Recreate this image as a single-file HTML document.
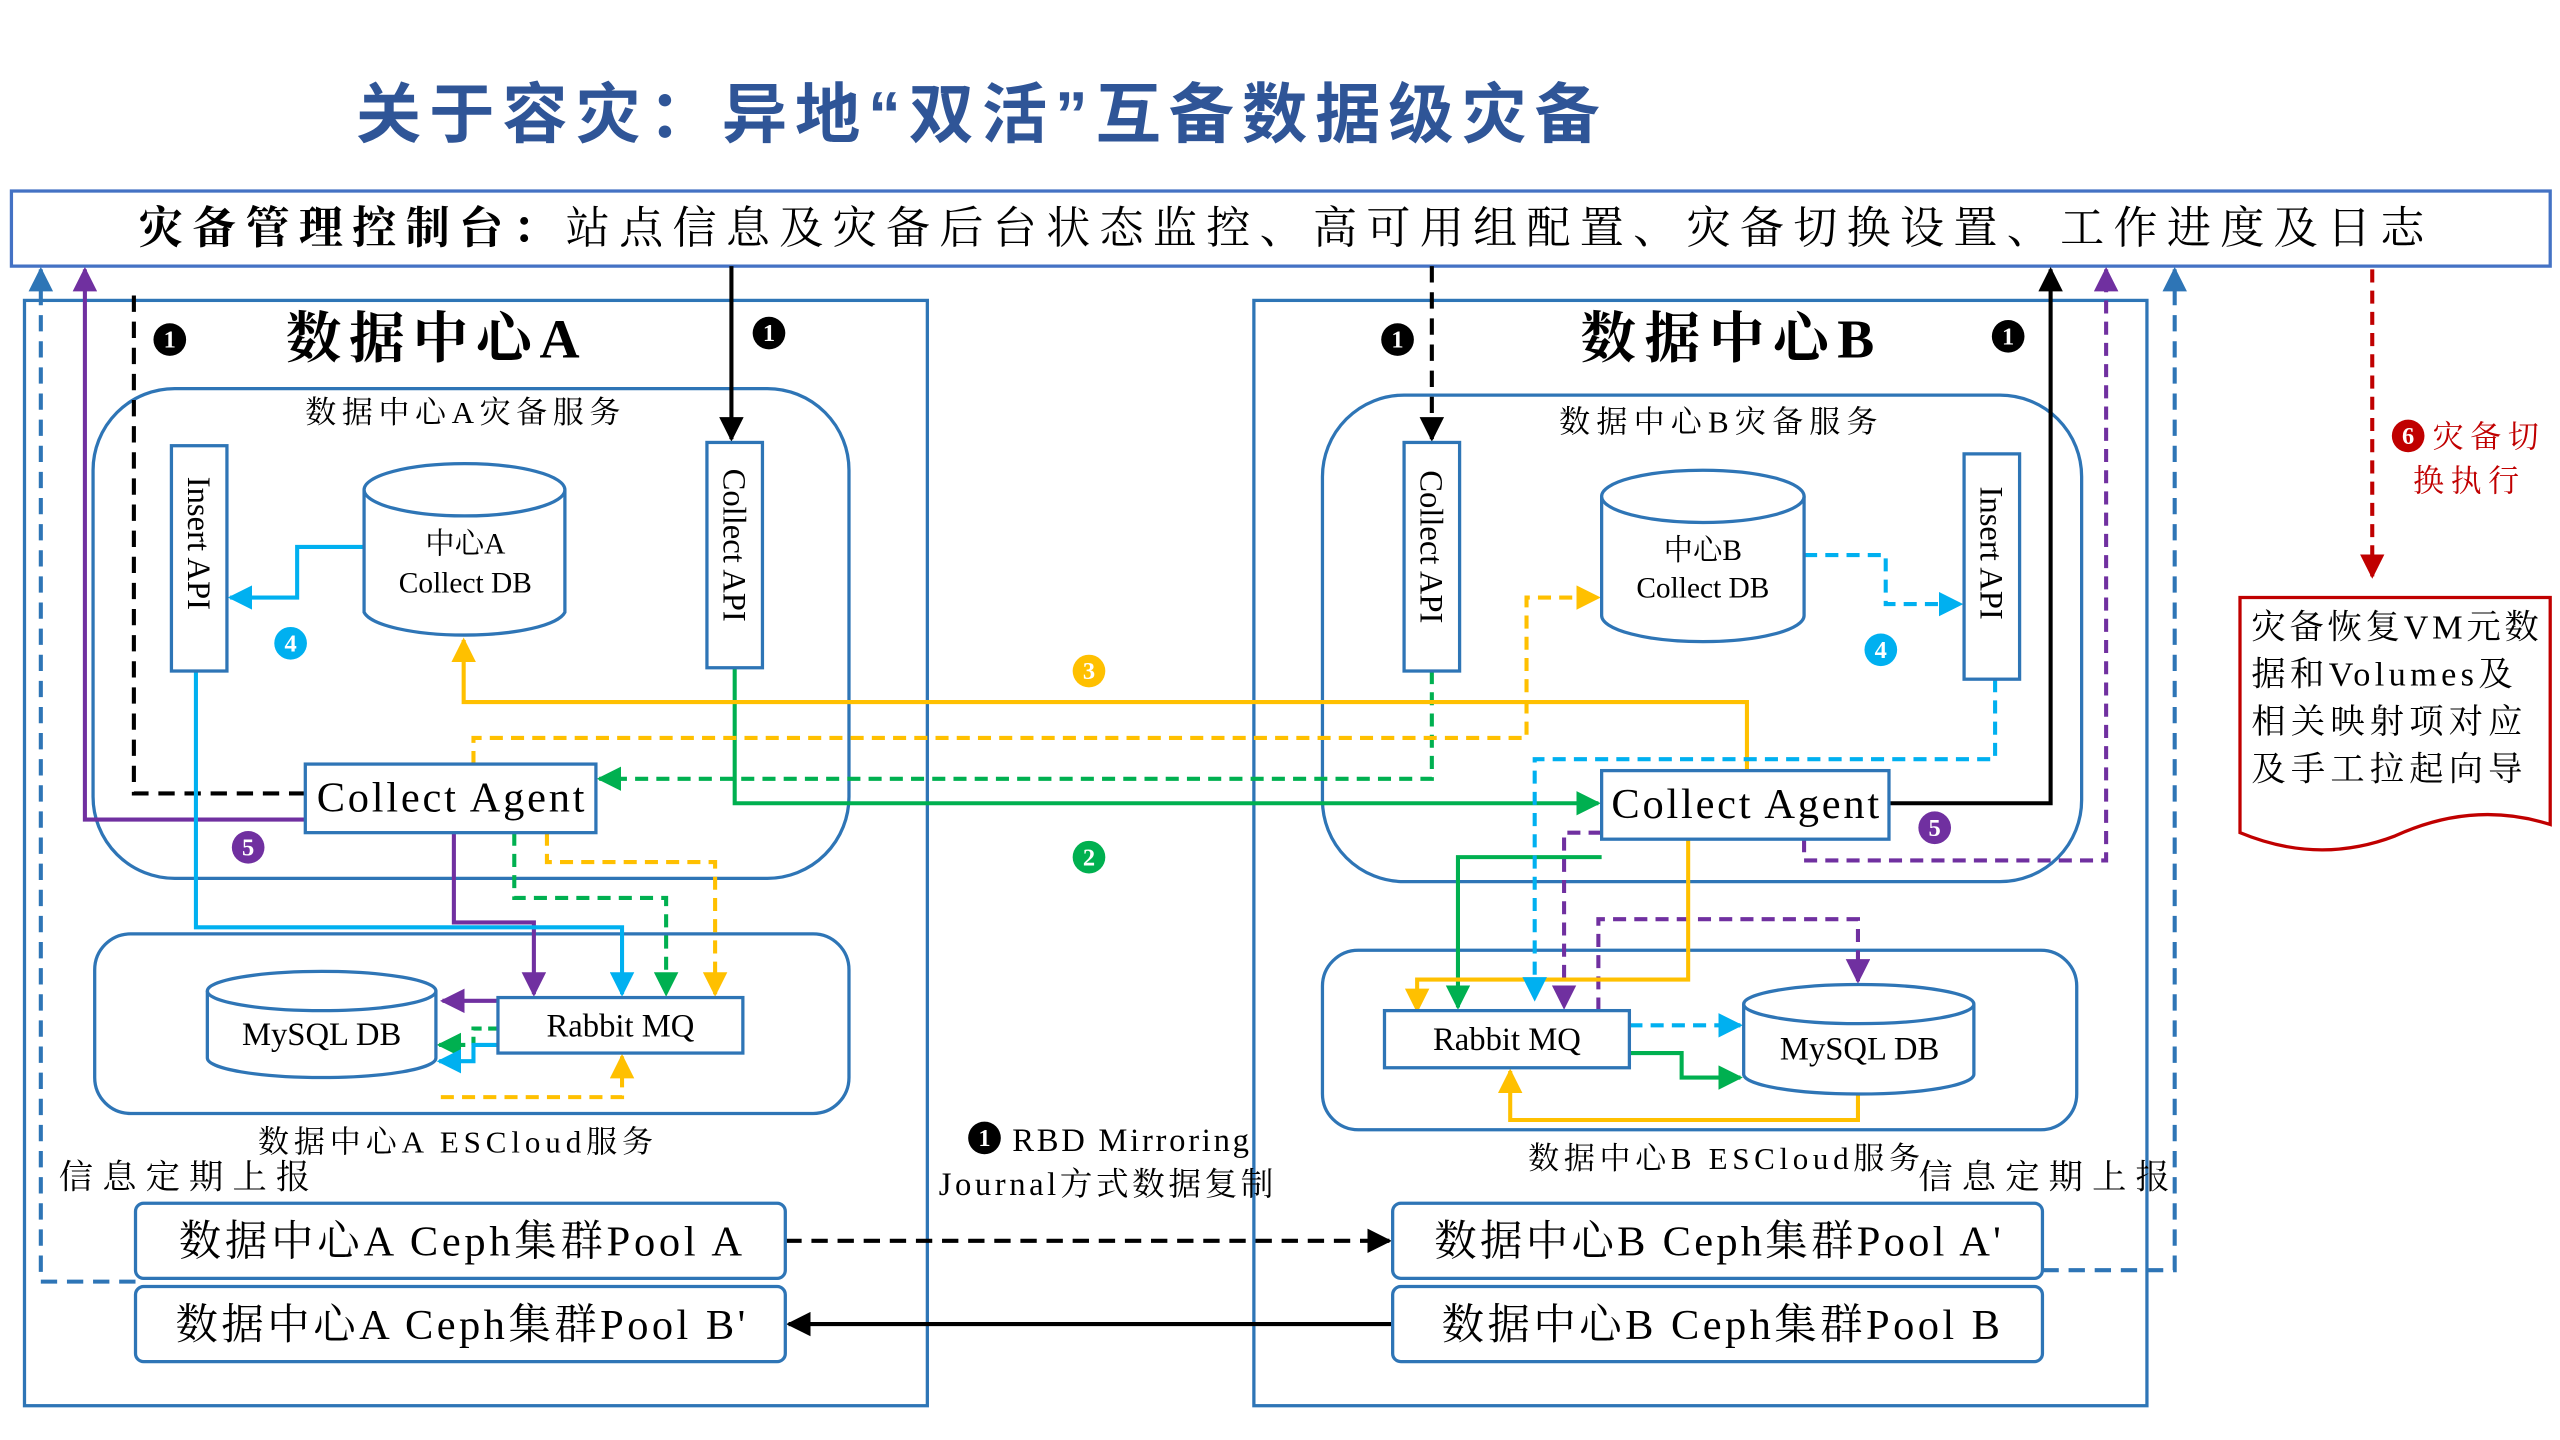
<!DOCTYPE html>
<html><head><meta charset="utf-8"><style>
html,body{margin:0;padding:0;background:#fff;width:2560px;height:1440px;overflow:hidden}
svg{display:block}
text{font-family:"Liberation Serif","Noto Serif CJK SC",serif}
.s{font-family:"Liberation Sans","Noto Sans CJK SC",sans-serif}
</style></head><body>
<svg width="2560" height="1440" viewBox="0 0 1568 882" xmlns="http://www.w3.org/2000/svg">
<defs>
<marker id="ab" viewBox="0 0 10 10" refX="9" refY="5" markerWidth="6" markerHeight="6" orient="auto"><path d="M0,0L10,5L0,10z" fill="#000"/></marker>
<marker id="abl" viewBox="0 0 10 10" refX="9" refY="5" markerWidth="6" markerHeight="6" orient="auto"><path d="M0,0L10,5L0,10z" fill="#2e75b6"/></marker>
<marker id="ap" viewBox="0 0 10 10" refX="9" refY="5" markerWidth="6" markerHeight="6" orient="auto"><path d="M0,0L10,5L0,10z" fill="#7030a0"/></marker>
<marker id="ag" viewBox="0 0 10 10" refX="9" refY="5" markerWidth="6" markerHeight="6" orient="auto"><path d="M0,0L10,5L0,10z" fill="#00b050"/></marker>
<marker id="ay" viewBox="0 0 10 10" refX="9" refY="5" markerWidth="6" markerHeight="6" orient="auto"><path d="M0,0L10,5L0,10z" fill="#ffc000"/></marker>
<marker id="ac" viewBox="0 0 10 10" refX="9" refY="5" markerWidth="6" markerHeight="6" orient="auto"><path d="M0,0L10,5L0,10z" fill="#00b0f0"/></marker>
<marker id="ar" viewBox="0 0 10 10" refX="9" refY="5" markerWidth="6" markerHeight="6" orient="auto"><path d="M0,0L10,5L0,10z" fill="#c00000"/></marker>
</defs>
<text x="218" y="84" class="s" font-size="40" font-weight="bold" fill="#2f5597" textLength="762" lengthAdjust="spacing">关于容灾：异地“双活”互备数据级灾备</text>
<rect x="7" y="117" width="1555" height="46" fill="#fff" stroke="#4472c4" stroke-width="2"/>
<text x="85" y="149" font-size="27" textLength="1400" lengthAdjust="spacing"><tspan font-weight="bold">灾备管理控制台：</tspan>站点信息及灾备后台状态监控、高可用组配置、灾备切换设置、工作进度及日志</text>
<g fill="none" stroke="#2e75b6" stroke-width="2">
<rect x="15" y="184" width="553" height="677"/>
<rect x="768" y="184" width="547" height="677"/>
<rect x="57" y="238" width="463" height="300" rx="50"/>
<rect x="810" y="242" width="465" height="298" rx="50"/>
<rect x="58" y="572" width="462" height="110" rx="22"/>
<rect x="810" y="582" width="462" height="110" rx="22"/>
</g>
<text x="175" y="219" font-size="34" font-weight="bold" textLength="180" lengthAdjust="spacing">数据中心A</text>
<text x="968" y="219" font-size="34" font-weight="bold" textLength="180" lengthAdjust="spacing">数据中心B</text>
<text x="187" y="259" font-size="19" textLength="193" lengthAdjust="spacing">数据中心A灾备服务</text>
<text x="955" y="265" font-size="19" textLength="195" lengthAdjust="spacing">数据中心B灾备服务</text>
<text x="158" y="706" font-size="19" textLength="242" lengthAdjust="spacing">数据中心A  ESCloud服务</text>
<text x="936" y="716" font-size="19" textLength="240" lengthAdjust="spacing">数据中心B  ESCloud服务</text>
<text x="36" y="728" font-size="21" textLength="154" lengthAdjust="spacing">信息定期上报</text>
<text x="1175" y="728" font-size="21" textLength="154" lengthAdjust="spacing">信息定期上报</text>
<text x="620" y="705" font-size="20" textLength="145" lengthAdjust="spacing">RBD Mirroring</text>
<text x="575" y="732" font-size="20" textLength="205" lengthAdjust="spacing">Journal方式数据复制</text>

<g fill="none" stroke-width="2.5">
<path d="M83,785H25V165" stroke="#2e75b6" stroke-dasharray="10,6" marker-end="url(#abl)"/>
<path d="M1251,778H1332V165" stroke="#2e75b6" stroke-dasharray="10,6" marker-end="url(#abl)"/>
<path d="M187,486H82V180" stroke="#000" stroke-dasharray="10,6"/>
<path d="M448,163V269" stroke="#000" marker-end="url(#ab)"/>
<path d="M877,163V269" stroke="#000" stroke-dasharray="10,6" marker-end="url(#ab)"/>
<path d="M1157,492H1256V165" stroke="#000" marker-end="url(#ab)"/>
<path d="M187,502H52V165" stroke="#7030a0" marker-end="url(#ap)"/>
<path d="M278,510V565H327V609" stroke="#7030a0" marker-end="url(#ap)"/>
<path d="M305,613H271" stroke="#7030a0" marker-end="url(#ap)"/>
<path d="M1105,514V527H1290V165" stroke="#7030a0" stroke-dasharray="8,5" marker-end="url(#ap)"/>
<path d="M981,510H958V617" stroke="#7030a0" stroke-dasharray="8,5" marker-end="url(#ap)"/>
<path d="M979,619V563H1138V601" stroke="#7030a0" stroke-dasharray="8,5" marker-end="url(#ap)"/>
<path d="M450,409V492H979" stroke="#00b050" marker-end="url(#ag)"/>
<path d="M877,411V477H367" stroke="#00b050" stroke-dasharray="8,5" marker-end="url(#ag)"/>
<path d="M315,510V550H408V609" stroke="#00b050" stroke-dasharray="8,5" marker-end="url(#ag)"/>
<path d="M305,630H290V640H269" stroke="#00b050" stroke-dasharray="6,4" marker-end="url(#ag)"/>
<path d="M981,525H893V617" stroke="#00b050" marker-end="url(#ag)"/>
<path d="M998,645H1030V660H1066" stroke="#00b050" marker-end="url(#ag)"/>
<path d="M1070,472V430H284V392" stroke="#ffc000" marker-end="url(#ay)"/>
<path d="M290,468V452H935V366H979" stroke="#ffc000" stroke-dasharray="8,5" marker-end="url(#ay)"/>
<path d="M335,510V528H438V609" stroke="#ffc000" stroke-dasharray="8,5" marker-end="url(#ay)"/>
<path d="M270,672H381V647" stroke="#ffc000" stroke-dasharray="8,5" marker-end="url(#ay)"/>
<path d="M1034,514V600H868V619" stroke="#ffc000" marker-end="url(#ay)"/>
<path d="M1138,670V686H925V656" stroke="#ffc000" marker-end="url(#ay)"/>
<path d="M223,335H182V366H141" stroke="#00b0f0" marker-end="url(#ac)"/>
<path d="M120,411V568H381V609" stroke="#00b0f0" marker-end="url(#ac)"/>
<path d="M1105,340H1155V370H1201" stroke="#00b0f0" stroke-dasharray="8,5" marker-end="url(#ac)"/>
<path d="M1222,416V465H940V612" stroke="#00b0f0" stroke-dasharray="8,5" marker-end="url(#ac)"/>
<path d="M998,628H1066" stroke="#00b0f0" stroke-dasharray="8,5" marker-end="url(#ac)"/>
<path d="M305,640H290V650H269" stroke="#00b0f0" marker-end="url(#ac)"/>
<path d="M481,760H851" stroke="#000" stroke-dasharray="10,6" marker-end="url(#ab)"/>
<path d="M853,811H483" stroke="#000" marker-end="url(#ab)"/>
<path d="M1453,165V353" stroke="#c00000" stroke-dasharray="8,5" marker-end="url(#ar)"/>
</g>

<g fill="#fff" stroke="#2e75b6" stroke-width="2">
<rect x="105" y="273" width="34" height="138"/>
<rect x="433" y="271" width="34" height="138"/>
<rect x="860" y="271" width="34" height="140"/>
<rect x="1203" y="278" width="34" height="138"/>
</g>
<g font-size="20">
<text transform="translate(115,292) rotate(90)">Insert API</text>
<text transform="translate(443,287) rotate(90)">Collect API</text>
<text transform="translate(870,288) rotate(90)">Collect API</text>
<text transform="translate(1213,298) rotate(90)">Insert API</text>
</g>
<g fill="#fff" stroke="#2e75b6" stroke-width="2">
<path d="M223,300V375A62,16 0 0 0 346,375V300"/><ellipse cx="284.5" cy="300" rx="61.5" ry="16"/>
<path d="M981,304V377A62,16 0 0 0 1105,377V304"/><ellipse cx="1043" cy="304" rx="62" ry="16"/>
<path d="M127,607V648A70,12 0 0 0 267,648V607"/><ellipse cx="197" cy="607" rx="70" ry="12"/>
<path d="M1068,615V658A70,12 0 0 0 1209,658V615"/><ellipse cx="1138.5" cy="615" rx="70.5" ry="12"/>
<rect x="187" y="468" width="178" height="42"/>
<rect x="981" y="472" width="176" height="42"/>
<rect x="305" y="611" width="150" height="34"/>
<rect x="848" y="619" width="150" height="35"/>
<rect x="83" y="737" width="398" height="46" rx="5"/>
<rect x="83" y="788" width="398" height="46" rx="5"/>
<rect x="853" y="737" width="398" height="46" rx="5"/>
<rect x="853" y="788" width="398" height="46" rx="5"/>
</g>
<g font-size="18" text-anchor="middle">
<text x="285" y="339">中心A</text><text x="285" y="363">Collect DB</text>
<text x="1043" y="343">中心B</text><text x="1043" y="366">Collect DB</text>
<text x="197" y="640" font-size="20">MySQL DB</text>
<text x="1139" y="649" font-size="20">MySQL DB</text>
<text x="380" y="635" font-size="20">Rabbit MQ</text>
<text x="923" y="643" font-size="20">Rabbit MQ</text>
<text x="276" y="497" font-size="26" textLength="164" lengthAdjust="spacing">Collect Agent</text>
<text x="1069" y="501" font-size="26" textLength="164" lengthAdjust="spacing">Collect Agent</text>
<text x="282" y="769" font-size="26" textLength="345" lengthAdjust="spacing">数据中心A Ceph集群Pool A</text>
<text x="282" y="820" font-size="26" textLength="349" lengthAdjust="spacing">数据中心A Ceph集群Pool B'</text>
<text x="1052" y="769" font-size="26" textLength="347" lengthAdjust="spacing">数据中心B Ceph集群Pool A'</text>
<text x="1054" y="820" font-size="26" textLength="342" lengthAdjust="spacing">数据中心B Ceph集群Pool B</text>
</g>
<g font-size="15" font-weight="bold" text-anchor="middle" class="s" fill="#fff">
<circle cx="104" cy="208" r="10" fill="#000"/><text x="104" y="213">1</text>
<circle cx="471" cy="204" r="10" fill="#000"/><text x="471" y="209">1</text>
<circle cx="856" cy="208" r="10" fill="#000"/><text x="856" y="213">1</text>
<circle cx="1230" cy="206" r="10" fill="#000"/><text x="1230" y="211">1</text>
<circle cx="603" cy="697" r="10" fill="#000"/><text x="603" y="702">1</text>
<circle cx="178" cy="394" r="10" fill="#00b0f0"/><text x="178" y="399">4</text>
<circle cx="1152" cy="398" r="10" fill="#00b0f0"/><text x="1152" y="403">4</text>
<circle cx="667" cy="411" r="10" fill="#ffc000"/><text x="667" y="416">3</text>
<circle cx="667" cy="525" r="10" fill="#00b050"/><text x="667" y="530">2</text>
<circle cx="152" cy="519" r="10" fill="#7030a0"/><text x="152" y="524">5</text>
<circle cx="1185" cy="507" r="10" fill="#7030a0"/><text x="1185" y="512">5</text>
<circle cx="1475" cy="267" r="10" fill="#c00000"/><text x="1475" y="272">6</text>
</g>
<text x="1490" y="274" font-size="19" fill="#c00000" textLength="65" lengthAdjust="spacing">灾备切</text>
<text x="1478" y="301" font-size="19" fill="#c00000" textLength="65" lengthAdjust="spacing">换执行</text>
<path d="M1372,366H1562V505Q1515,490 1467,512Q1420,530 1372,510Z" fill="#fff" stroke="#c00000" stroke-width="2"/>
<g font-size="21">
<text x="1379" y="391" textLength="176" lengthAdjust="spacing">灾备恢复VM元数</text>
<text x="1379" y="420" textLength="160" lengthAdjust="spacing">据和Volumes及</text>
<text x="1379" y="449" textLength="166" lengthAdjust="spacing">相关映射项对应</text>
<text x="1379" y="478" textLength="166" lengthAdjust="spacing">及手工拉起向导</text>
</g>
</svg>
</body></html>
